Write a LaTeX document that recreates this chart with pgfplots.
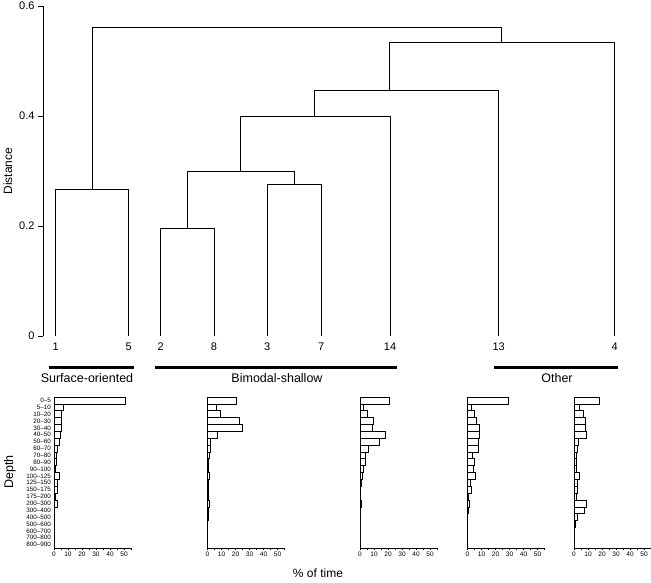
\documentclass[border=0pt]{standalone}
\usepackage{fontspec}
\setmainfont{Liberation Sans}
\usepackage{pgfplots}
\usepackage{pgfplotstable}
\pgfplotsset{compat=1.18}

\pgfplotstableread{
row h1 h2 h3 h4 h5
22 51 20.5 21 28.8 18.3
21 6.4 6 2.6 2.9 4
20 5.5 8.8 5.5 5.2 6.7
19 5 22.4 9.5 6.4 8.3
18 5.2 24.5 8.6 8.1 7.9
17 4.5 7.1 18.1 8.1 9
16 3.8 2.1 13.8 7.4 3.1
15 2.4 2.1 5.7 7.6 2.6
14 1.7 1 3.6 3.1 1.9
13 1.4 0.7 3.6 5.2 1.7
12 1 0.7 2.1 3.8 1.9
11 3.8 1.4 1.9 5.5 3.6
10 2.4 0.7 1.2 1.7 2.6
9 2.1 0.5 0.5 2.4 2.1
8 1 0.5 0.5 0.7 1.7
7 2.1 1.2 0.7 1.2 8.8
6 0.5 0.7 0.3 0.3 7.6
5 0.2 0.3 0 0 2.4
4 0 0 0 0 0.7
3 0 0 0 0 0
2 0 0 0 0 0
1 0 0 0 0 0
}\hist

\pgfplotsset{
  hist/.style={
    scale only axis, width=77pt, height=151pt, anchor=south west,
    xmin=0, xmax=55, ymin=0.5, ymax=22.5,
    axis lines*=left, axis line style={line width=0.6pt, black},
    xtick={0,10,...,50}, minor xtick={5,15,...,55},
    tick align=outside, major tick length=2pt, minor tick length=2pt,
    tick style={line width=0.5pt, black},
    xticklabel style={font=\fontsize{6.5}{7.5}\selectfont, inner sep=1.5pt},
    ytick=\empty,
    /pgf/number format/assume math mode=true,
    clip=false,
  },
  hbar/.style={xbar, bar width=1, fill=white, draw=black, line width=0.6pt},
}

\begin{document}
\begin{tikzpicture}[x=1pt,y=1pt]
\path[use as bounding box] (0,0) rectangle (651,582);

% dendrogram
\begin{axis}[
  at={(43pt,246pt)}, anchor=south west,
  scale only axis, width=587pt, height=330pt,
  xmin=43, xmax=630, ymin=0, ymax=0.6,
  axis y line*=left, axis x line*=bottom,
  x axis line style={draw=none},
  y axis line style={line width=0.8pt, black},
  ytick={0,0.2,0.4,0.6}, yticklabels={0,0.2,0.4,0.6},
  tick align=outside, major tick length=5pt,
  y tick style={line width=0.8pt, black},
  x tick style={draw=none},
  xtick={55.7,128.7,160.7,214,267.3,321.3,390,498.7,614.7},
  xticklabels={1,5,2,8,3,7,14,13,4},
  xticklabel style={font=\fontsize{11}{13}\selectfont, inner sep=2pt},
  yticklabel style={font=\fontsize{11}{13}\selectfont},
  ylabel={Distance}, ylabel style={font=\fontsize{12}{14}\selectfont},
  /pgf/number format/assume math mode=true,
  clip=false,
]
\addplot[black, line width=0.8pt] coordinates {(55.7,0) (55.7,0.266) (128.7,0.266) (128.7,0)};
\addplot[black, line width=0.8pt] coordinates {(160.7,0) (160.7,0.196) (214,0.196) (214,0)};
\addplot[black, line width=0.8pt] coordinates {(267.3,0) (267.3,0.275) (321.3,0.275) (321.3,0)};
\addplot[black, line width=0.8pt] coordinates {(187.3,0.196) (187.3,0.299) (294.3,0.299) (294.3,0.275)};
\addplot[black, line width=0.8pt] coordinates {(240.8,0.299) (240.8,0.4) (390,0.4) (390,0)};
\addplot[black, line width=0.8pt] coordinates {(314.7,0.4) (314.7,0.447) (498.7,0.447) (498.7,0)};
\addplot[black, line width=0.8pt] coordinates {(389,0.447) (389,0.533) (614.7,0.533) (614.7,0)};
\addplot[black, line width=0.8pt] coordinates {(92.2,0.266) (92.2,0.5606) (501.7,0.5606) (501.7,0.533)};
\end{axis}

% group bars
\draw[line width=3pt] (49,215) -- (134,215);
\draw[line width=3pt] (155,215) -- (397,215);
\draw[line width=3pt] (494,215) -- (618,215);
\node[font=\fontsize{12.5}{14}\selectfont] at (87,204) {Surface-oriented};
\node[font=\fontsize{12.5}{14}\selectfont] at (277,204) {Bimodal-shallow};
\node[font=\fontsize{12.5}{14}\selectfont] at (557,204) {Other};

% histograms
\begin{axis}[hist, at={(54pt,34pt)},
  ytick={1,...,22},
  yticklabels={800–900,700–800,600–700,500–600,400–500,300–400,200–300,175–200,150–175,125–150,100–125,90–100,80–90,70–80,60–70,50–60,40–50,30–40,20–30,10–20,5–10,0–5},
  y tick style={draw=none},
  yticklabel style={font=\fontsize{6.3}{6.5}\selectfont, inner sep=1pt},
]
\addplot[hbar] table[x=h1, y=row] {\hist};
\end{axis}
\begin{axis}[hist, at={(207.5pt,34pt)}]
\addplot[hbar] table[x=h2, y=row] {\hist};
\end{axis}
\begin{axis}[hist, at={(360pt,34pt)}]
\addplot[hbar] table[x=h3, y=row] {\hist};
\end{axis}
\begin{axis}[hist, at={(467.5pt,34pt)}]
\addplot[hbar] table[x=h4, y=row] {\hist};
\end{axis}
\begin{axis}[hist, at={(574pt,34pt)}]
\addplot[hbar] table[x=h5, y=row] {\hist};
\end{axis}

\node[font=\fontsize{12}{14}\selectfont] at (318,9) {\% of time};
\node[font=\fontsize{12.5}{14}\selectfont, rotate=90] at (10,110) {Depth};
\end{tikzpicture}
\end{document}
